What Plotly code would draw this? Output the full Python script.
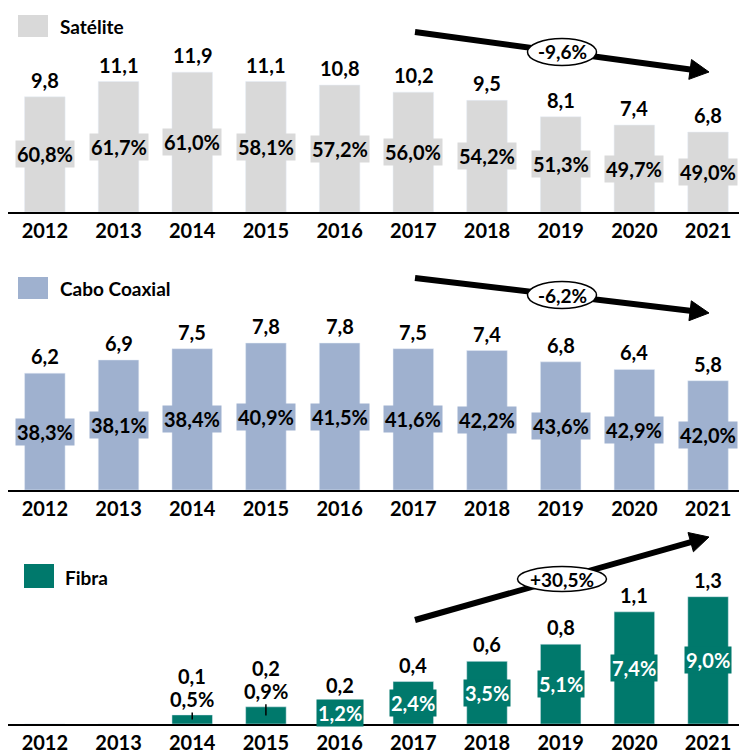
import plotly.graph_objects as go

# ---------------- data ----------------
years = ["2012", "2013", "2014", "2015", "2016", "2017", "2018", "2019", "2020", "2021"]
satelite = [9.8, 11.1, 11.9, 11.1, 10.8, 10.2, 9.5, 8.1, 7.4, 6.8]
satelite_pct = [60.8, 61.7, 61.0, 58.1, 57.2, 56.0, 54.2, 51.3, 49.7, 49.0]
coaxial = [6.2, 6.9, 7.5, 7.8, 7.8, 7.5, 7.4, 6.8, 6.4, 5.8]
coaxial_pct = [38.3, 38.1, 38.4, 40.9, 41.5, 41.6, 42.2, 43.6, 42.9, 42.0]
fibra = [0, 0, 0.09, 0.17, 0.22, 0.42, 0.62, 0.79, 1.11, 1.26]
fibra_pct = [None, None, 0.5, 0.9, 1.2, 2.4, 3.5, 5.1, 7.4, 9.0]
cagr = ["-9,6%", "-6,2%", "+30,5%"]
series_names = ["Satélite", "Cabo Coaxial", "Fibra"]

# ---------------- style ----------------
W, H = 739, 753
FONT = "Lato"
C_SAT = "#D9D9D9"
C_COAX = "#9FB1CF"
C_FIB = "#00796C"


def fx(px):
    return px / W


def fy(py):
    return 1 - py / H


def fmt(v, pct=False):
    s = f"{v:.1f}".replace(".", ",")
    return s + "%" if pct else s


# panel geometry in pixels: (top, axis line, y max)
panels = [(0, 212, 18.04), (262, 490, 12.1), (530, 724, 1.92)]

fig = go.Figure()
colors = [C_SAT, C_COAX, C_FIB]
values = [satelite, coaxial, fibra]
pcts = [satelite_pct, coaxial_pct, fibra_pct]

annotations = []
shapes = []
xdom = [fx(8), 1]


def tf(color="black", size=20):
    return dict(family=FONT, size=size, color=color, weight="bold")


for k in range(3):
    top, axis, ymax = panels[k]
    xa = "x" if k == 0 else f"x{k+1}"
    ya = "y" if k == 0 else f"y{k+1}"
    fig.add_trace(go.Bar(
        x=years, y=values[k], marker_color=colors[k], xaxis=xa, yaxis=ya,
        showlegend=False, hoverinfo="skip", width=0.55,
    ))
    ax_key = "xaxis" if k == 0 else f"xaxis{k+1}"
    ay_key = "yaxis" if k == 0 else f"yaxis{k+1}"
    fig.update_layout(**{
        ax_key: dict(domain=xdom, anchor=ya, type="category", range=[-0.5, 9.42],
                     showline=True, linecolor="black", linewidth=2, ticks="",
                     showgrid=False, zeroline=False, tickfont=tf()),
        ay_key: dict(domain=[fy(axis), fy(top)], anchor=xa, range=[0, ymax],
                     visible=False, showgrid=False, zeroline=False),
    })
    px_per_unit = (axis - top) / ymax
    for i, (v, p) in enumerate(zip(values[k], pcts[k])):
        if not v:
            continue
        small = k == 2 and v < 0.2
        if small:
            ytail = v + 16 / px_per_unit
            annotations.append(dict(
                x=i, y=v / 2, xref=xa, yref=ya, text=fmt(p, True),
                showarrow=True, arrowhead=0, arrowwidth=1.5, arrowcolor="black",
                ax=0, axref="pixel", ay=ytail, ayref=ya, font=tf()))
            annotations.append(dict(
                x=i, y=ytail, xref=xa, yref=ya, text=fmt(v), showarrow=False,
                xanchor="center", yanchor="middle", yshift=23, font=tf()))
        else:
            annotations.append(dict(
                x=i, y=v, xref=xa, yref=ya, text=fmt(v), showarrow=False,
                xanchor="center", yanchor="bottom", yshift=3, font=tf()))
            annotations.append(dict(
                x=i, y=v / 2, xref=xa, yref=ya, text=fmt(p, True), showarrow=False,
                xanchor="center", yanchor="middle", bgcolor=colors[k], borderpad=1,
                font=tf("white" if k == 2 else "black")))

# legend-like keys
keys = [((18, 15, 48, 37), (58, 27)), ((18, 277, 48, 299), (58, 288)),
        ((24, 564, 54, 588), (63, 577))]
for k, ((x0, y0, x1, y1), (tx, ty)) in enumerate(keys):
    shapes.append(dict(type="rect", xref="paper", yref="paper",
                       x0=fx(x0), x1=fx(x1), y0=fy(y1), y1=fy(y0),
                       fillcolor=colors[k], line=dict(width=0)))
    annotations.append(dict(x=fx(tx), y=fy(ty), xref="paper", yref="paper",
                            text=series_names[k], showarrow=False, xanchor="left",
                            yanchor="middle", font=tf(size=19)))

# trend arrows with CAGR ellipses
arrows = [((415, 32), (709, 72), (562, 52), (69, 27)),
          ((415, 278), (709, 313), (562, 295), (69, 27)),
          ((415, 620), (709, 537), (562, 579), (89, 25))]
for k, ((sx, sy), (tx, ty), (cx, cy), (ew, eh)) in enumerate(arrows):
    dx, dy = tx - sx, ty - sy
    L = (dx * dx + dy * dy) ** 0.5
    ux, uy = dx / L, dy / L
    hl, hw = 19, 10
    bx, by = tx - hl * ux, ty - hl * uy
    px_, py_ = -uy, ux
    shapes.append(dict(type="line", xref="paper", yref="paper",
                       x0=fx(sx), y0=fy(sy), x1=fx(bx + 2 * ux), y1=fy(by + 2 * uy),
                       line=dict(color="black", width=6)))
    path = (f"M {fx(tx)} {fy(ty)} L {fx(bx + hw * px_)} {fy(by + hw * py_)} "
            f"L {fx(bx - hw * px_)} {fy(by - hw * py_)} Z")
    shapes.append(dict(type="path", xref="paper", yref="paper", path=path,
                       fillcolor="black", line=dict(color="black", width=1)))
    shapes.append(dict(type="circle", xref="paper", yref="paper",
                       x0=fx(cx - ew / 2), x1=fx(cx + ew / 2),
                       y0=fy(cy + eh / 2), y1=fy(cy - eh / 2),
                       fillcolor="white", line=dict(color="black", width=1.5)))
    annotations.append(dict(x=fx(cx), y=fy(cy), xref="paper", yref="paper",
                            text=cagr[k], showarrow=False, xanchor="center",
                            yanchor="middle", font=tf(size=19)))

fig.update_layout(
    width=W, height=H, margin=dict(l=0, r=0, t=0, b=0),
    paper_bgcolor="white", plot_bgcolor="rgba(0,0,0,0)",
    bargap=0.45, annotations=annotations, shapes=shapes,
    font=dict(family=FONT, size=20, color="black"),
)

fig.write_html("out.html", config={"displayModeBar": False},
               post_script="document.body.style.margin='0';document.body.style.overflow='hidden';")
